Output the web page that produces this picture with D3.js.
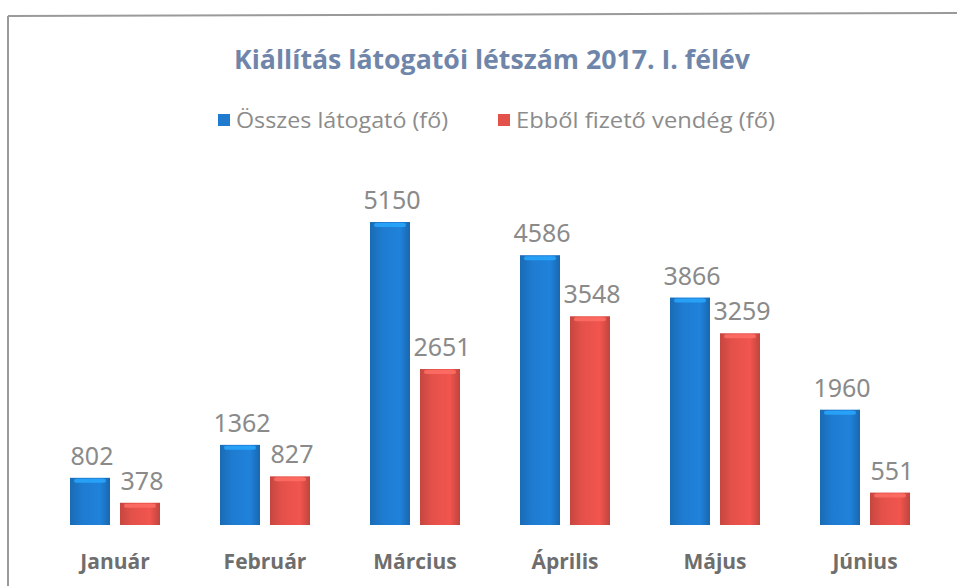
<!DOCTYPE html>
<html lang="hu">
<head>
  <meta charset="UTF-8">
  <title>Kiállítás látogatói létszám 2017. I. félév</title>
  <style>
    body { margin: 0; background: #fff; font-family: 'Open Sans', 'Noto Sans', sans-serif; }
  </style>
  <script src="https://d3js.org/d3.v7.min.js"></script>
</head>
<body>
  <div id="chart"></div>
  <script>
    const months = ["Január", "Február", "Március", "Április", "Május", "Június"];
    const seriesNames = ["Összes látogató (fő)", "Ebből fizető vendég (fő)"];
    const totalVisitors = [802, 1362, 5150, 4586, 3866, 1960];
    const payingGuests = [378, 827, 2651, 3548, 3259, 551];
    const colors = ["#1e7bd0", "#e4514a"];

    const width = 957, height = 586;
    const svg = d3.select("#chart").append("svg")
      .attr("width", width).attr("height", height);

    const defs = svg.append("defs");
    colors.forEach((c, i) => {
      const g = defs.append("linearGradient").attr("id", "grad" + i)
        .attr("x1", 0).attr("x2", 1).attr("y1", 0).attr("y2", 0);
      g.append("stop").attr("offset", "0%").attr("stop-color", d3.color(c).darker(0.4));
      g.append("stop").attr("offset", "30%").attr("stop-color", c);
      g.append("stop").attr("offset", "75%").attr("stop-color", d3.color(c).brighter(0.15));
      g.append("stop").attr("offset", "100%").attr("stop-color", d3.color(c).darker(0.5));
    });

    // keret (szkennelt lap széle)
    svg.append("line").attr("x1", 8).attr("y1", 16).attr("x2", 957).attr("y2", 13)
      .attr("stroke", "#9a9a9a").attr("stroke-width", 2);
    svg.append("line").attr("x1", 8).attr("y1", 16).attr("x2", 8).attr("y2", 586)
      .attr("stroke", "#9a9a9a").attr("stroke-width", 2);

    // cím
    svg.append("text")
      .attr("x", 492).attr("y", 69)
      .attr("text-anchor", "middle")
      .attr("textLength", 516).attr("lengthAdjust", "spacingAndGlyphs")
      .style("font-family", "'Open Sans', sans-serif")
      .style("font-weight", "bold").style("font-size", "27px")
      .style("fill", "#6f86aa")
      .text("Kiállítás látogatói létszám 2017. I. félév");

    // jelmagyarázat
    const legendPos = [{ sq: 218, tx: 236, len: 212 }, { sq: 498, tx: 516, len: 259 }];
    seriesNames.forEach((name, i) => {
      svg.append("rect")
        .attr("x", legendPos[i].sq).attr("y", 114).attr("width", 12).attr("height", 12)
        .attr("fill", colors[i]);
      svg.append("text")
        .attr("x", legendPos[i].tx).attr("y", 128)
        .attr("textLength", legendPos[i].len).attr("lengthAdjust", "spacingAndGlyphs")
        .style("font-size", "22px").style("fill", "#8c8c8c")
        .text(name);
    });

    const x0 = d3.scaleBand().domain(months).range([40, 940]).paddingInner(0).paddingOuter(0);
    const x1 = d3.scaleBand().domain([0, 1]).range([30, 120]).paddingInner(0.2);
    const y = d3.scaleLinear().domain([0, 6000]).range([525, 172]);

    const groups = svg.selectAll("g.month")
      .data(months)
      .join("g")
      .attr("class", "month")
      .attr("transform", d => `translate(${x0(d)},0)`);

    const series = [totalVisitors, payingGuests];
    series.forEach((vals, s) => {
      groups.append("rect")
        .attr("x", x1(s))
        .attr("y", (d, i) => y(vals[i]))
        .attr("width", x1.bandwidth())
        .attr("height", (d, i) => y(0) - y(vals[i]))
        .attr("fill", `url(#grad${s})`);
      // felső fény
      groups.append("rect")
        .attr("x", x1(s) + 4)
        .attr("y", (d, i) => y(vals[i]) + 1)
        .attr("width", x1.bandwidth() - 8)
        .attr("height", 4)
        .attr("rx", 2)
        .attr("fill", d3.color(colors[s]).brighter(0.9))
        .attr("opacity", 0.8);
      groups.append("text")
        .attr("x", x1(s) + x1.bandwidth() / 2 + 2)
        .attr("y", (d, i) => y(vals[i]) - 13)
        .attr("text-anchor", "middle")
        .style("font-family", "'Noto Sans', sans-serif")
        .style("font-size", "25px").style("fill", "#8a8a8a")
        .text((d, i) => vals[i]);
    });

    // x tengely feliratai
    groups.append("text")
      .attr("x", x0.bandwidth() / 2)
      .attr("y", 569)
      .attr("text-anchor", "middle")
      .style("font-family", "'Open Sans', sans-serif")
      .style("font-weight", "bold").style("font-size", "21px")
      .style("fill", "#6e6e6e")
      .text(d => d);
  </script>
</body>
</html>
